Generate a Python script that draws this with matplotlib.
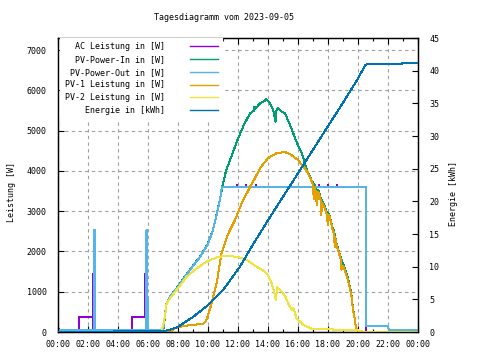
import matplotlib
matplotlib.use('Agg')
import matplotlib.pyplot as plt

plt.rcParams['font.family'] = ['DejaVu Sans Mono', 'DejaVu Sans']
FS = 6

title = "Tagesdiagramm vom 2023-09-05"
ylabel_left = "Leistung [W]"
ylabel_right = "Energie [kWh]"
xtick_hours = list(range(0, 25, 2))
xtick_labels = ["%02d:00" % (h % 24) for h in xtick_hours]
labels = ["AC Leistung in [W]", "PV-Power-In in [W]", "PV-Power-Out in [W]",
          "PV-1 Leistung in [W]", "PV-2 Leistung in [W]", "Energie in [kWh]"]
colors = ["#9400D3", "#009E73", "#56B4E9", "#E69F00", "#F0E442", "#0072B2"]

# AC Leistung [W]
ac_t = [0, 0.05, 0.06, 1.42, 1.43, 2.30, 2.31, 2.33, 2.34, 4.93, 4.94, 5.82, 5.83, 5.85, 5.86,
        7.0, 7.12, 7.22, 7.5, 8.0, 8.5, 9.0, 9.47, 10.0, 10.3, 10.5, 10.8, 10.93,
        11.9, 11.92, 11.94, 12.5, 12.52, 12.54, 13.2, 13.22, 13.24,
        17.4, 17.42, 17.44, 18.0, 18.02, 18.04, 18.6, 18.62, 18.64, 20.53, 20.55, 24]
ac_v = [80, 80, 0, 0, 370, 370, 1440, 1440, 0, 0, 370, 370, 1440, 1440, 0,
        40, 380, 700, 900, 1120, 1390, 1640, 1860, 2190, 2490, 2790, 3290, 3600,
        3600, 3660, 3600, 3600, 3660, 3600, 3600, 3660, 3600,
        3600, 3660, 3600, 3600, 3660, 3600, 3600, 3660, 3600, 3600, 0, 0]

# PV-Power-In [W]
in_t = [0, 7.0, 7.13, 7.24, 7.5, 8.0, 8.5, 9.0, 9.47, 10.0, 10.3, 10.5, 10.8, 10.95, 11.2,
        11.47, 11.75, 12.0, 12.4, 12.8, 13.07, 13.1, 13.13, 13.47, 13.7, 13.9, 14.1, 14.35,
        14.5, 14.55, 14.67, 14.9, 15.13, 15.47, 15.9, 16.25, 16.6, 16.9, 17.1, 17.2, 17.36,
        17.5, 17.6, 17.7, 17.9, 18.0, 18.13, 18.3, 18.4, 18.47, 18.6, 18.7, 18.85, 19.0,
        19.2, 19.36, 19.5, 19.58, 19.66, 19.76, 19.87, 20.0, 20.13, 24]
in_v = [0, 0, 380, 700, 900, 1130, 1400, 1650, 1870, 2200, 2500, 2800, 3300, 3600, 4000,
        4270, 4550, 4800, 5150, 5430, 5500, 5600, 5530, 5680, 5720, 5780, 5700, 5510,
        5220, 5480, 5560, 5480, 5430, 5140, 4720, 4440, 4020, 3770, 3650, 3500, 3520,
        3350, 3250, 3200, 3000, 2950, 2860, 2600, 2500, 2370, 2150, 2030, 1850, 1700,
        1500, 1290, 1050, 875, 600, 380, 100, 30, 0, 0]

# PV-Power-Out [W]
out_t = [0, 2.37, 2.38, 2.44, 2.45, 5.89, 5.9, 5.96, 5.97, 7.0, 7.12, 7.22, 7.5, 8.0, 8.5,
         9.0, 9.47, 10.0, 10.3, 10.5, 10.8, 10.93, 20.53, 20.55, 22.0, 22.05, 24]
out_v = [40, 40, 2530, 2530, 40, 40, 2530, 2530, 40, 40, 380, 700, 900, 1120, 1390,
         1640, 1860, 2190, 2490, 2790, 3290, 3600, 3600, 150, 150, 60, 60]

# PV-1 Leistung [W]
pv1_t = [0, 7.5, 7.69, 8.13, 8.6, 9.2, 9.69, 9.9, 10.25, 10.58, 10.9, 11.36, 11.8, 12.25,
         12.8, 13.13, 13.47, 14.0, 14.58, 15.13, 15.58, 16.0, 16.36, 16.6, 16.9, 17.0, 17.05,
         17.1, 17.2, 17.25, 17.36, 17.5, 17.55, 17.6, 17.7, 17.9, 18.0, 18.05, 18.13, 18.3,
         18.4, 18.45, 18.47, 18.6, 18.7, 18.85, 18.9, 19.0, 19.2, 19.36, 19.5, 19.58, 19.66,
         19.76, 19.87, 20.0, 20.13, 24]
pv1_v = [0, 0, 75, 130, 160, 185, 200, 300, 720, 1215, 1960, 2450, 2780, 3200,
         3600, 3820, 4070, 4320, 4440, 4470, 4390, 4270, 4100, 4000, 3750, 3650, 3300,
         3600, 3450, 3150, 3480, 3300, 2900, 3200, 3150, 2950, 2650, 2900, 2840, 2550,
         2450, 2100, 2350, 2100, 2000, 1800, 1550, 1650, 1450, 1250, 1000, 860, 550,
         370, 90, 20, 0, 0]

# PV-2 Leistung [W]
pv2_t = [0, 6.9, 7.13, 7.24, 7.5, 7.9, 8.58, 9.24, 9.9, 10.58, 11.13, 11.9, 12.58, 13.24,
         13.8, 14.0, 14.24, 14.35, 14.53, 14.6, 15.0, 15.2, 15.33, 15.58, 15.69, 15.9, 16.36,
         17.0, 18.33, 18.4, 20.0, 20.4, 24]
pv2_v = [0, 0, 380, 710, 850, 1040, 1370, 1580, 1745, 1850, 1890, 1870, 1790, 1620,
         1500, 1410, 1210, 1080, 790, 1120, 960, 850, 720, 545, 600, 340, 175,
         65, 65, 40, 40, 0, 0]

# Energie [kWh]
en_t = [0, 7.0, 7.69, 8.0, 9.0, 10.0, 11.0, 12.13, 13.0, 14.0, 15.0, 16.0, 17.0, 18.0,
        19.0, 20.0, 20.47, 20.6, 22.9, 22.95, 24]
en_v = [0.05, 0.1, 0.5, 0.8, 2.3, 4.1, 6.4, 10.0, 13.4, 17.1, 20.7, 24.3, 27.9, 31.5,
        35.1, 38.8, 40.8, 41.0, 41.0, 41.2, 41.2]

fig = plt.figure(figsize=(4.8, 3.6), dpi=100)
L, R, T, B = 58, 418, 38, 332
ax = fig.add_axes([L / 480, (360 - B) / 360, (R - L) / 480, (B - T) / 360])
ax2 = ax.twinx()

lw = 0.72
series = [(ac_t, ac_v), (in_t, in_v), (out_t, out_v), (pv1_t, pv1_v), (pv2_t, pv2_v)]
handles = []
for (t, v), c, lab in zip(series, colors[:5], labels[:5]):
    h, = ax.plot(t, v, color=c, lw=lw, label=lab, zorder=3, antialiased=False)
    handles.append(h)
h, = ax2.plot(en_t, en_v, color=colors[5], lw=lw, label=labels[5], zorder=3, antialiased=False)
handles.append(h)

ax.set_xlim(0, 24)
ax.set_ylim(0, 7300)
ax2.set_ylim(0, 45)

ax.set_xticks(xtick_hours)
ax.set_xticklabels(xtick_labels)
ax.set_xticks(range(1, 24, 2), minor=True)
ax.set_yticks(range(0, 7001, 1000))
ax2.set_yticks(range(0, 46, 5))

ax.grid(True, which='major', color='#a0a0a0', lw=0.8, linestyle=(0, (3, 3)))
ax.set_axisbelow(True)

ax.tick_params(axis='x', which='major', direction='in', length=4, width=0.8, top=True,
               labelsize=FS, pad=6, colors='black')
ax.tick_params(axis='x', which='minor', direction='in', length=2.5, width=0.8, top=True)
ax.tick_params(axis='y', which='major', direction='in', length=4, width=0.8, right=False,
               labelsize=FS, pad=8)
ax2.tick_params(axis='y', which='major', direction='in', length=4, width=0.8,
                labelsize=FS, pad=8)

for a in (ax, ax2):
    for s in a.spines.values():
        s.set_linewidth(0.9)
        s.set_color('black')

fig.text(224 / 480, 1 - 18 / 360, title, ha='center', va='center', fontsize=FS)
fig.text(12 / 480, 1 - 192 / 360, ylabel_left, rotation=90, ha='center', va='center', fontsize=FS)
fig.text(453 / 480, 1 - 194 / 360, ylabel_right, rotation=90, ha='center', va='center', fontsize=FS)

leg = ax2.legend(handles=handles, labels=labels, loc='upper right',
                 bbox_to_anchor=((222 - L) / (R - L), 1.0), borderaxespad=0,
                 fontsize=FS, markerfirst=False, handlelength=3.4, handletextpad=3.0,
                 labelspacing=0.45, borderpad=0.5, frameon=True, fancybox=False)
leg.get_frame().set_facecolor('white')
leg.get_frame().set_edgecolor('white')
leg.get_frame().set_alpha(1.0)
for line in leg.get_lines():
    line.set_linewidth(1.0)

fig.savefig('out.png', dpi=100)
